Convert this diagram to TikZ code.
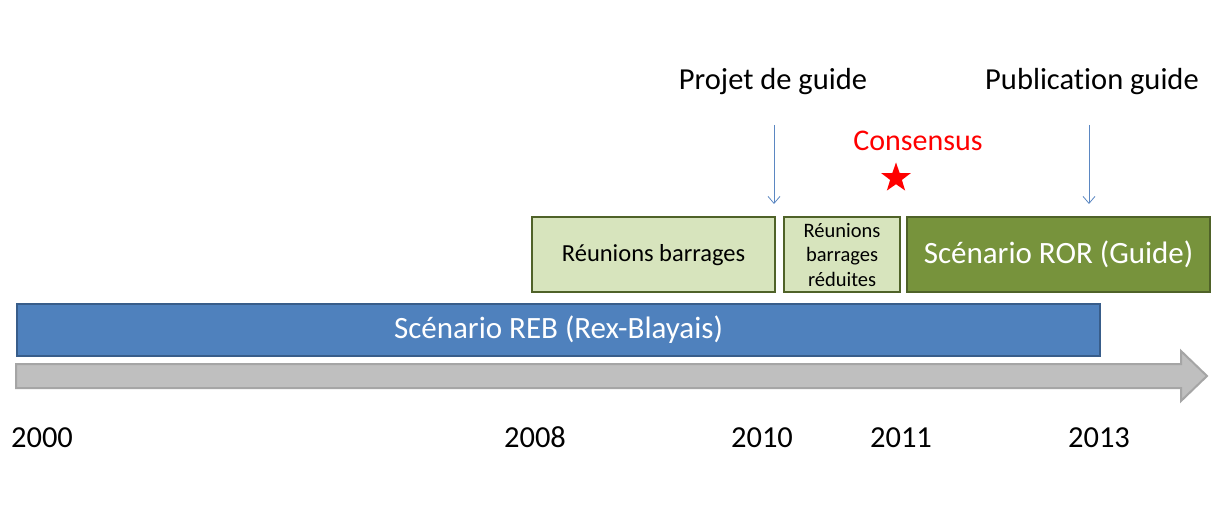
\documentclass[tikz,border=0pt]{standalone}
\usepackage{fontspec}
\setmainfont{Carlito}[Ligatures={NoCommon}]
\usetikzlibrary{shapes.geometric,arrows.meta}
\definecolor{blueF}{HTML}{4F81BD}
\definecolor{blueD}{HTML}{385D8A}
\definecolor{greenL}{HTML}{D7E4BD}
\definecolor{greenD}{HTML}{77933C}
\definecolor{greenB}{HTML}{4F6228}
\definecolor{greyF}{HTML}{BFBFBF}
\definecolor{greyD}{HTML}{A5A5A5}
\definecolor{arrowC}{HTML}{5B87C2}
\tikzset{
  box/.style={draw, line width=2.2pt, inner sep=0pt, anchor=north west},
  lightbox/.style={box, fill=greenL, draw=greenB, text=black},
  darkbox/.style={box, fill=greenD, draw=greenB, text=white},
  bluebox/.style={box, fill=blueF, draw=blueD, text=white, line width=2pt},
  year/.style={font=\fontsize{30.5}{32}\selectfont, anchor=base},
  toplabel/.style={font=\fontsize{30.5}{32}\selectfont, anchor=base},
  marker/.style={draw=arrowC, line width=0.8pt, -{Straight Barb[length=7pt,width=12pt]}}
}
\begin{document}
\begin{tikzpicture}[x=1pt,y=-1pt]
\useasboundingbox[fill=white] (0,0) rectangle (1211,524);
% grey time axis arrow
\draw[fill=greyF, draw=greyD, line width=2pt, line join=miter]
  (16,364) -- (1181,364) -- (1181,351) -- (1207,376) -- (1181,401) -- (1181,388) -- (16,388) -- cycle;
% blue bar
\node[bluebox, minimum width=1083pt, minimum height=52pt,
  font=\fontsize{31}{33}\selectfont] (reb) at (16,303) {Scénario REB (Rex-Blayais)};
% green boxes
\node[lightbox, minimum width=243pt, minimum height=75pt,
  font=\fontsize{24.5}{26}\selectfont] (rb) at (531,216) {Réunions barrages};
\node[lightbox, minimum width=116pt, minimum height=75pt,
  font=\fontsize{20.5}{24.5}\selectfont, align=center] (rbr) at (783,216) {Réunions\\barrages\\réduites};
\node[darkbox, minimum width=303pt, minimum height=75pt,
  font=\fontsize{31}{33}\selectfont] (ror) at (906,216) {Scénario ROR (Guide)};
% top labels
\node[toplabel] (projet) at (773,90) {Projet de guide};
\node[toplabel] (publi) at (1092,90) {Publication guide};
\node[toplabel, text=red, font=\fontsize{30}{32}\selectfont] (cons) at (918,151) {Consensus};
\node[star, star points=5, star point ratio=2.5, fill=red, minimum size=31pt, inner sep=0pt] (star) at (896,178) {};
% marker arrows
\coordinate (pa) at (774,125);
\coordinate (pb) at (774,204);
\coordinate (qa) at (1089,125);
\coordinate (qb) at (1089,204);
\draw[marker] (pa) -- (pb);
\draw[marker] (qa) -- (qb);
% years
\node[year] (y2000) at (42,447) {2000};
\node[year] (y2008) at (535,447) {2008};
\node[year] (y2010) at (762,447) {2010};
\node[year] (y2011) at (901,447) {2011};
\node[year] (y2013) at (1099,447) {2013};
\end{tikzpicture}
\end{document}
